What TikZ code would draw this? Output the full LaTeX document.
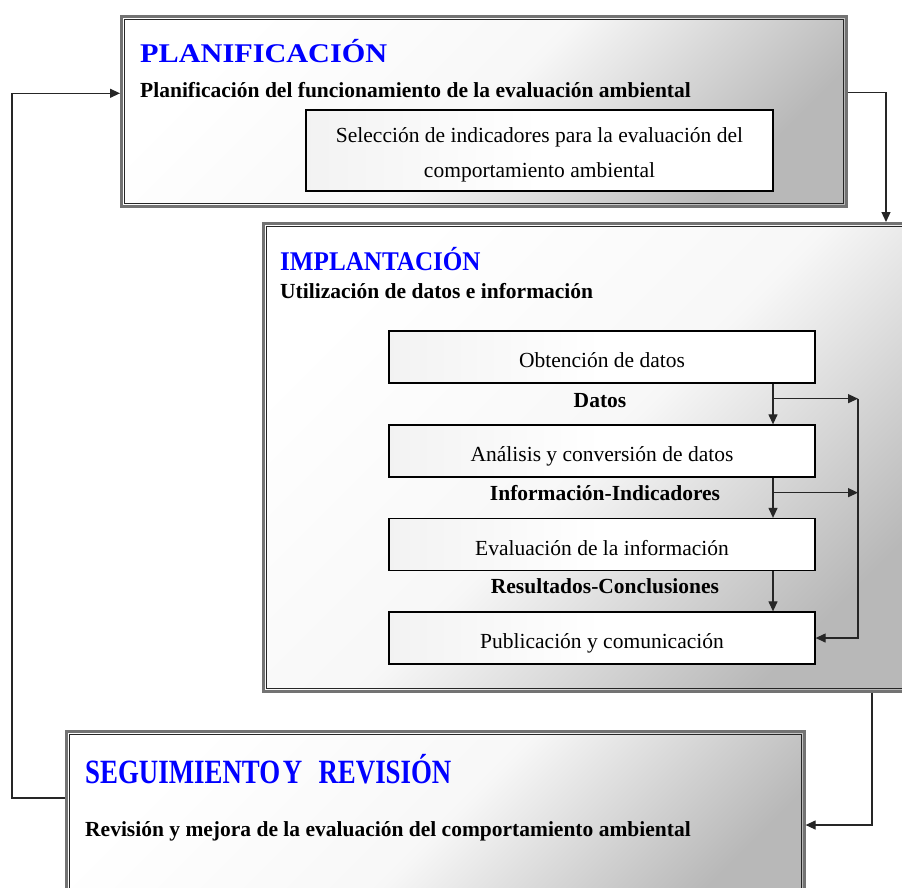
\documentclass[tikz,border=0pt]{standalone}
\usepackage{fontspec}
\setmainfont{Liberation Serif}
\usetikzlibrary{arrows.meta,calc}
\begin{document}
\begin{tikzpicture}[x=1pt,y=-1pt,
  bigbox/.style={draw=black!55, line width=2.6pt,
    top color=white, bottom color=black!28, middle color=black!3, shading angle=45,
    anchor=north west, inner sep=0pt},
  innerline/.style={draw=black!85, line width=1.4pt},
  ibox/.style={draw=black, line width=1.3pt, left color=black!5, right color=white, middle color=white,
    minimum width=426pt, minimum height=52pt, inner sep=0pt, text height=25pt, text depth=4pt,
    font=\fontsize{21.5}{26}\selectfont},
  selbox/.style={draw=black, line width=1.3pt, left color=black!5, right color=white, middle color=white,
    inner sep=0pt, align=center, font=\fontsize{21.5}{35}\selectfont},
  head/.style={anchor=base west, inner sep=0pt, text=blue, font=\bfseries\fontsize{27}{30}\selectfont},
  bodyb/.style={anchor=base west, inner sep=0pt, font=\bfseries\fontsize{21.5}{26}\selectfont},
  lab/.style={anchor=base, inner sep=0pt, font=\bfseries\fontsize{21.5}{26}\selectfont},
  arr/.style={-{Triangle[length=10pt,width=9pt]}, line width=1.2pt, draw=black!85}
]
\useasboundingbox (0,0) rectangle (902,887);
\clip (0,0) rectangle (902,887);

% big boxes
\node[bigbox, minimum width=725pt, minimum height=190pt] (plan) at (120,15) {};
\node[bigbox, minimum width=660pt, minimum height=468pt] (impl) at (262,222) {};
\node[bigbox, minimum width=738pt, minimum height=200pt] (seg) at (65,730) {};
\draw[innerline] ([shift={(4.2pt,-4.2pt)}]plan.north west) rectangle ([shift={(-4.2pt,4.2pt)}]plan.south east);
\draw[innerline] ([shift={(4.2pt,-4.2pt)}]impl.north west) rectangle ([shift={(-4.2pt,4.2pt)}]impl.south east);
\draw[innerline] ([shift={(4.2pt,-4.2pt)}]seg.north west) rectangle ([shift={(-4.2pt,4.2pt)}]seg.south east);

% PLANIFICACION
\node[head] (planh) at (140,62) {\scalebox{1.12}[1]{PLANIFICACIÓN}};
\node[bodyb] (plant) at (140,97) {Planificación del funcionamiento de la evaluación ambiental};
\node[selbox, minimum width=467pt, minimum height=81pt] (sel) at (539.5,150.5)
  {\rule{0pt}{23pt}Selección de indicadores para la evaluación del\\comportamiento ambiental};

% IMPLANTACION
\node[head] (implh) at (280,270) {\scalebox{0.93}[1]{IMPLANTACIÓN}};
\node[bodyb] (implt) at (280,298) {Utilización de datos e información};
\node[ibox] (obt) at (602,357) {Obtención de datos};
\node[ibox] (ana) at (602,451) {Análisis y conversión de datos};
\node[ibox] (eva) at (602,544.5) {Evaluación de la información};
\node[ibox] (pub) at (602,638) {Publicación y comunicación};
\node[lab] (datos) at (600,407) {Datos};
\node[lab] (info) at (605,500) {Información-Indicadores};
\node[lab] (resu) at (605,593) {Resultados-Conclusiones};

% SEGUIMIENTO
\node[head, font=\bfseries\fontsize{34}{36}\selectfont] (segh) at (85,783)
  {\scalebox{0.79}[1]{SEGUIMIENTO\hspace{-5pt} Y\hspace{12pt} REVISIÓN}};
\node[bodyb] (segt) at (85,836) {Revisión y mejora de la evaluación del comportamiento ambiental};

% inner flow
\draw[arr] ([xshift=171pt]obt.south) -- ([xshift=171pt]ana.north);
\draw[arr] ([xshift=171pt]ana.south) -- ([xshift=171pt]eva.north);
\draw[arr] ([xshift=171pt]eva.south) -- ([xshift=171pt]pub.north);
\coordinate (b1) at ([xshift=171pt,yshift=-15pt]obt.south);
\coordinate (b2) at ([xshift=171pt,yshift=-15pt]ana.south);
\draw[arr] (b1) -- ++(85,0) coordinate (r1);
\draw[arr] (b2) -- ++(85,0);
\draw[arr] (r1) |- (pub.east);

% outer cycle
\coordinate (segL) at ([yshift=-68pt]seg.north west);
\coordinate (planL) at ([yshift=18pt]plan.west);
\draw[arr] (segL) -- ++(-53,0) |- (planL);
\draw[arr] ([yshift=19pt]plan.east) -| ([xshift=624pt]impl.north west);
\draw[arr] ([xshift=610pt]impl.south west) |- ([yshift=-95pt]seg.north east);
\end{tikzpicture}
\end{document}
